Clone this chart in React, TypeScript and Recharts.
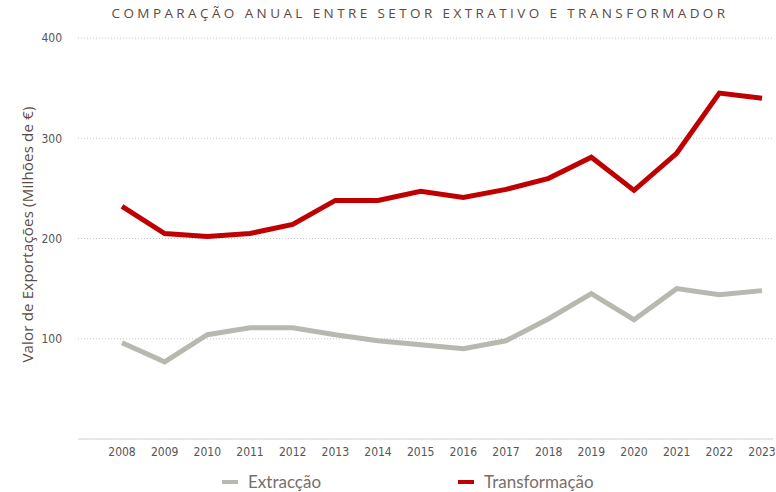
import { CartesianGrid, Line, LineChart, XAxis, YAxis } from 'recharts';

const YEARS = [
	'2008', '2009', '2010', '2011', '2012', '2013', '2014', '2015',
	'2016', '2017', '2018', '2019', '2020', '2021', '2022', '2023',
];
const EXTRACCAO = [96, 77, 104, 111, 111, 104, 98, 94, 90, 98, 120, 145, 119, 150, 144, 148];
const TRANSFORMACAO = [232, 205, 202, 205, 214, 238, 238, 247, 241, 249, 260, 281, 248, 285, 345, 340];
const Y_TICKS = [0, 100, 200, 300, 400];

const SERIES = [
	{ key: 'extraccao', name: 'Extracção', color: '#b8b8b1' },
	{ key: 'transformacao', name: 'Transformação', color: '#c00000' },
];

const data = YEARS.map((year, i) => ({
	year,
	extraccao: EXTRACCAO[i],
	transformacao: TRANSFORMACAO[i],
}));

const tickFont = { fontSize: 12, fill: '#555', fontFamily: '"Liberation Sans Narrow", "DejaVu Sans Condensed", sans-serif' };

const YLabel = ({ viewBox }: any) => {
	const cx = 27;
	const cy = viewBox.y + viewBox.height / 2 - 4;
	return (
		<text
			x={cx}
			y={cy}
			transform={`rotate(-90 ${cx} ${cy})`}
			textAnchor="middle"
			dominantBaseline="central"
			fontSize={15}
			letterSpacing={0.2}
			fill="#5b4b42"
			fontFamily='"Open Sans", sans-serif'
		>
			Valor de Exportações (Milhões de €)
		</text>
	);
};

export default function App() {
	return (
		<div style={{ position: 'absolute', left: 0, top: 0, width: 776, height: 492, background: '#fff', fontFamily: 'Lato, sans-serif' }}>
			<div
				style={{
					position: 'absolute',
					top: 4,
					left: 0,
					width: 840,
					textAlign: 'center',
					fontSize: 13.5,
					letterSpacing: 3.4,
					color: '#5a4a42',
					fontFamily: '"Open Sans", sans-serif',
				}}
			>
				COMPARAÇÃO ANUAL ENTRE SETOR EXTRATIVO E TRANSFORMADOR
			</div>
			<LineChart width={776} height={492} data={data} margin={{ top: 38, right: 3, bottom: 23, left: 0 }}>
				<CartesianGrid vertical={false} stroke="#c8c8c8" strokeDasharray="1 2" />
				<XAxis
					dataKey="year"
					tick={tickFont}
					tickLine={false}
					axisLine={{ stroke: '#e2e2e2', strokeWidth: 1.5 }}
					tickSize={6}
					tickMargin={2}
					interval={0}
					padding={{ left: 44, right: 11 }}
				/>
				<YAxis
					width={78}
					domain={[0, 400]}
					ticks={Y_TICKS}
					tickFormatter={(v) => (v === 0 ? '' : String(v))}
					tick={tickFont}
					tickLine={false}
					axisLine={false}
					tickSize={8}
					tickMargin={8}
					label={<YLabel />}
				/>
				{SERIES.map((s) => (
					<Line
						key={s.key}
						dataKey={s.key}
						name={s.name}
						stroke={s.color}
						strokeWidth={5}
						dot={false}
						activeDot={false}
						strokeLinejoin="miter"
						strokeLinecap="butt"
						isAnimationActive={false}
					/>
				))}
			</LineChart>
			<div style={{ position: 'absolute', top: 471, left: 0, width: 776, height: 20 }}>
				{SERIES.map((s, i) => (
					<div
						key={s.key}
						style={{
							position: 'absolute',
							left: i === 0 ? 222 : 458,
							top: 0,
							display: 'flex',
							alignItems: 'center',
							fontSize: 17,
							color: '#7a6e69',
						}}
					>
						<span style={{ display: 'inline-block', width: 16, height: 4, background: s.color, marginRight: 10 }} />
						{s.name}
					</div>
				))}
			</div>
		</div>
	);
}
